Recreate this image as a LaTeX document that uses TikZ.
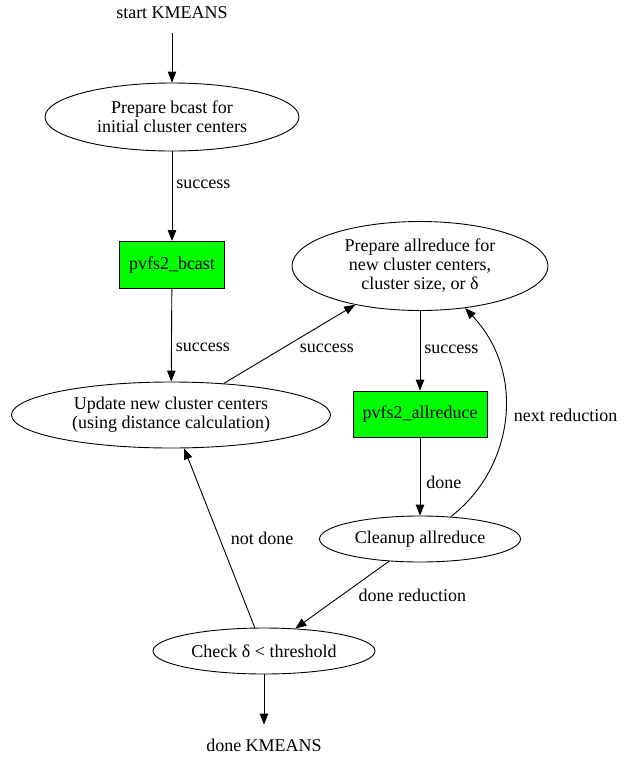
\documentclass[tikz,border=0pt]{standalone}
\usepackage{fontspec}
\setmainfont{Liberation Serif}
\usepackage{tikz}
\usetikzlibrary{arrows.meta,shapes.geometric,positioning}
\tikzstyle{every path}=[line width=0.9pt]
\tikzstyle{state}=[ellipse,draw=black,inner sep=0pt,align=center]
\tikzstyle{call}=[rectangle,draw=black,fill=green,inner sep=0pt]
\tikzstyle{terminal}=[inner sep=0pt,minimum height=40pt]
\tikzstyle{flowedge} = [-{Triangle[length=11pt,width=8.5pt]},black]
\tikzstyle{edgelabel}=[right,inner sep=0pt]

\begin{document}
\begin{tikzpicture}[x=1pt,y=-1pt,font=\fontsize{18}{19}\selectfont]
\useasboundingbox (0,0) rectangle (634,758);

    % terminals
    \node[terminal] (start) at (172,13) {start KMEANS};
    \node[terminal] (done) at (264,745) {done KMEANS};

    % states
    \node[state, minimum width=254pt, minimum height=68pt] (prepB) at (172,117) {Prepare bcast for\\initial cluster centers};
    \node[state, minimum width=256pt, minimum height=89pt] (prepAR) at (420,266) {Prepare allreduce for\\new cluster centers,\\cluster size, or δ};
    \node[state, minimum width=319pt, minimum height=66pt] (update) at (171,415) {Update new cluster centers\\(using distance calculation)};
    \node[state, minimum width=201pt, minimum height=46pt] (cleanup) at (420,539) {Cleanup allreduce};
    \node[state, minimum width=222pt, minimum height=46pt] (check) at (264,651) {Check δ < threshold};

    % pvfs2 calls
    \node[call, minimum width=105pt, minimum height=47pt] (bcast) at (172,265) {pvfs2\_bcast};
    \node[call, minimum width=134pt, minimum height=46pt] (allreduce) at (420,414) {pvfs2\_allreduce};

    \path (start) edge[flowedge] (prepB);
    \path (prepB) edge[flowedge] node[edgelabel, pos=0.37, xshift=4pt]{success} (bcast);
    \path (bcast) edge[flowedge] node[edgelabel, pos=0.63, xshift=4pt]{success} (update);
    \path (update) edge[flowedge] node[edgelabel, pos=0.5, xshift=10pt, yshift=-4pt]{success} (prepAR);
    \path (prepAR) edge[flowedge] node[edgelabel, pos=0.48, xshift=4pt]{success} (allreduce);
    \path (allreduce) edge[flowedge] node[edgelabel, pos=0.58, xshift=6pt]{done} (cleanup);
    \draw[flowedge] (cleanup.36) .. controls (512,470) and (528,375) .. node[edgelabel, pos=0.5, xshift=9pt, yshift=5pt]{next reduction} (prepAR.-43);
    \path (cleanup) edge[flowedge] node[edgelabel, pos=0.5, xshift=16pt]{done reduction} (check);
    \path (check) edge[flowedge] node[edgelabel, pos=0.5, xshift=11pt]{not done} (update);
    \path (check) edge[flowedge] (done);

\end{tikzpicture}
\end{document}
